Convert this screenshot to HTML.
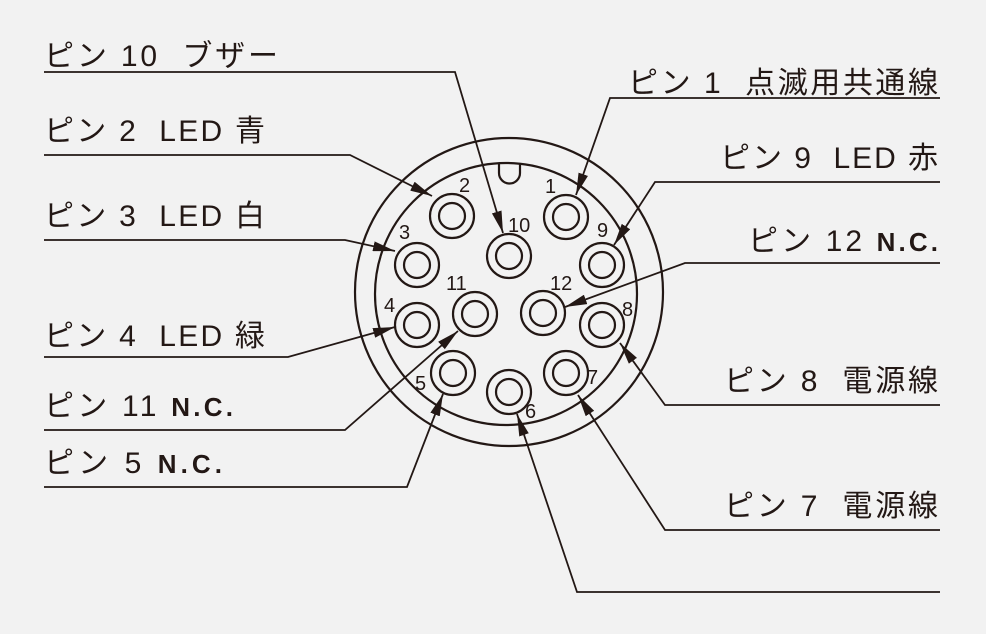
<!DOCTYPE html>
<html><head><meta charset="utf-8"><style>
html,body{margin:0;padding:0;background:#f2f2f2}
svg{display:block}
text{font-family:"Liberation Sans","Noto Sans CJK JP",sans-serif;fill:#231815;white-space:pre}
</style></head><body>
<svg width="986" height="634" viewBox="0 0 986 634" xmlns="http://www.w3.org/2000/svg">
<defs>
<marker id="a" viewBox="0 0 22 10" refX="22" refY="5" markerWidth="22" markerHeight="10" markerUnits="userSpaceOnUse" orient="auto">
<path d="M0,0 L22,5 L0,10 Z" fill="#231815"/>
</marker>
</defs>
<g fill="none" stroke="#231815" stroke-width="2.2">
<circle cx="509" cy="292" r="154"/>
<circle cx="506" cy="294" r="131"/>
<path d="M499,163 L499,173 A10.5,10.5 0 0 0 520,173 L520,163"/>
<g>
<circle cx="452" cy="216" r="22"/><circle cx="452" cy="216" r="13"/>
<circle cx="566" cy="217" r="22"/><circle cx="566" cy="217" r="13"/>
<circle cx="509" cy="256" r="22"/><circle cx="509" cy="256" r="13"/>
<circle cx="417" cy="265" r="22"/><circle cx="417" cy="265" r="13"/>
<circle cx="602" cy="265" r="22"/><circle cx="602" cy="265" r="13"/>
<circle cx="475" cy="314" r="22"/><circle cx="475" cy="314" r="13"/>
<circle cx="543" cy="313" r="22"/><circle cx="543" cy="313" r="13"/>
<circle cx="417" cy="325" r="22"/><circle cx="417" cy="325" r="13"/>
<circle cx="602" cy="325" r="22"/><circle cx="602" cy="325" r="13"/>
<circle cx="453" cy="373" r="22"/><circle cx="453" cy="373" r="13"/>
<circle cx="566" cy="373" r="22"/><circle cx="566" cy="373" r="13"/>
<circle cx="509" cy="392" r="22"/><circle cx="509" cy="392" r="13"/>
</g>
<g stroke-width="1.8" marker-end="url(#a)">
<polyline points="44,72 455,72 503,233"/>
<polyline points="44,155 350,155 432,196"/>
<polyline points="44,240 345,240 395,251"/>
<polyline points="44,357 288,357 395,327"/>
<polyline points="44,430 345,430 458,331"/>
<polyline points="44,487 407,487 443,394"/>
<polyline points="940,98 610,98 576,195"/>
<polyline points="940,182 655,182 614,245"/>
<polyline points="940,263 685,263 565,307"/>
<polyline points="940,405 665,405 620,343"/>
<polyline points="940,530 665,530 578,395"/>
<polyline points="940,592 577,592 517,414"/>
</g>
</g>
<g font-size="20">
<text x="459" y="192">2</text>
<text x="545" y="193">1</text>
<text x="508" y="232">10</text>
<text x="399" y="239">3</text>
<text x="597" y="237">9</text>
<text x="446" y="290">11</text>
<text x="550" y="290">12</text>
<text x="384" y="312">4</text>
<text x="622" y="316">8</text>
<text x="415" y="390">5</text>
<text x="587" y="384">7</text>
<text x="525" y="418">6</text>
</g>
<g font-size="30">
<text x="44" y="66" textLength="234" lengthAdjust="spacing">ピン 10  ブザー</text>
<text x="44" y="141" textLength="221" lengthAdjust="spacing">ピン 2  LED 青</text>
<text x="44" y="226" textLength="221" lengthAdjust="spacing">ピン 3  LED 白</text>
<text x="44" y="346" textLength="221" lengthAdjust="spacing">ピン 4  LED 緑</text>
<text x="44" y="416" textLength="189" lengthAdjust="spacing">ピン 11 <tspan font-weight="bold" font-size="26">N.C.</tspan></text>
<text x="44" y="473" textLength="178" lengthAdjust="spacing">ピン 5 <tspan font-weight="bold" font-size="26">N.C.</tspan></text>
<text x="628" y="93" textLength="310" lengthAdjust="spacing">ピン 1  点滅用共通線</text>
<text x="720" y="168" textLength="218" lengthAdjust="spacing">ピン 9  LED 赤</text>
<text x="748" y="251" textLength="190" lengthAdjust="spacing">ピン 12 <tspan font-weight="bold" font-size="26">N.C.</tspan></text>
<text x="724" y="391" textLength="214" lengthAdjust="spacing">ピン 8  電源線</text>
<text x="724" y="516" textLength="214" lengthAdjust="spacing">ピン 7  電源線</text>
</g>
</svg>
</body></html>
